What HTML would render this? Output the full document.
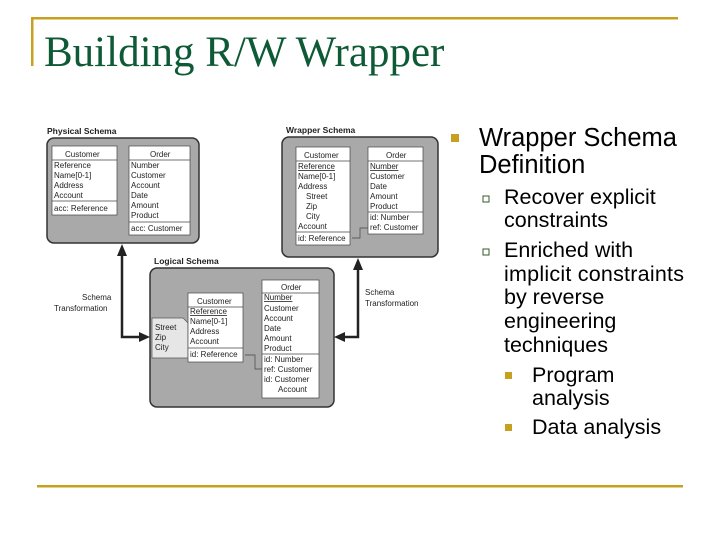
<!DOCTYPE html>
<html><head><meta charset="utf-8"><style>
html,body{margin:0;padding:0;background:#fff}
svg{display:block}
.d{font-family:"Liberation Sans",sans-serif;font-size:8px;fill:#222}
.h{font-family:"Liberation Sans",sans-serif;font-size:8.5px;font-weight:bold;fill:#222}
.t{font-family:"Liberation Sans",sans-serif;fill:#000}
</style></head><body>
<svg width="720" height="540" viewBox="0 0 720 540" xmlns="http://www.w3.org/2000/svg">
<rect x="32" y="17" width="646" height="2.5" fill="#c8a020"/>
<rect x="31" y="17" width="2.5" height="49" fill="#c8a020"/>
<rect x="37" y="485" width="646" height="2.5" fill="#c8a020"/>
<text x="44" y="66" font-family="Liberation Serif,serif" font-size="43" fill="#0f5a36">Building R/W Wrapper</text>

<!-- Physical -->
<text class="h" x="47" y="134">Physical Schema</text>
<rect x="47" y="138" width="152" height="105" rx="7" fill="#a9a9a9" stroke="#333" stroke-width="1.5"/>
<rect x="52" y="146" width="65" height="69" fill="#fff" stroke="#444" stroke-width=".7"/>
<line x1="52" y1="160" x2="117" y2="160" stroke="#444" stroke-width=".7"/>
<line x1="52" y1="201" x2="117" y2="201" stroke="#444" stroke-width=".7"/>
<text class="d" x="65" y="157">Customer</text>
<text class="d" x="54" y="168">Reference</text><text class="d" x="54" y="178">Name[0-1]</text><text class="d" x="54" y="188">Address</text><text class="d" x="54" y="198">Account</text><text class="d" x="54" y="211">acc: Reference</text>
<rect x="129" y="146" width="61" height="89" fill="#fff" stroke="#444" stroke-width=".7"/>
<line x1="129" y1="160" x2="190" y2="160" stroke="#444" stroke-width=".7"/>
<line x1="129" y1="222" x2="190" y2="222" stroke="#444" stroke-width=".7"/>
<text class="d" x="150" y="157">Order</text>
<text class="d" x="131" y="168">Number</text><text class="d" x="131" y="178">Customer</text><text class="d" x="131" y="188">Account</text><text class="d" x="131" y="198">Date</text><text class="d" x="131" y="208">Amount</text><text class="d" x="131" y="218">Product</text><text class="d" x="131" y="231">acc: Customer</text>

<!-- Wrapper -->
<text class="h" x="286" y="133">Wrapper Schema</text>
<rect x="282" y="137" width="156" height="120" rx="7" fill="#a9a9a9" stroke="#333" stroke-width="1.5"/>
<rect x="296" y="147" width="54" height="98" fill="#fff" stroke="#444" stroke-width=".7"/>
<line x1="296" y1="161" x2="350" y2="161" stroke="#444" stroke-width=".7"/>
<line x1="296" y1="232" x2="350" y2="232" stroke="#444" stroke-width=".7"/>
<text class="d" x="304" y="158">Customer</text>
<text class="d" x="298" y="169" text-decoration="underline">Reference</text><text class="d" x="298" y="179">Name[0-1]</text><text class="d" x="298" y="189">Address</text><text class="d" x="306" y="199">Street</text><text class="d" x="306" y="209">Zip</text><text class="d" x="306" y="219">City</text><text class="d" x="298" y="229">Account</text><text class="d" x="298" y="241">id: Reference</text>
<rect x="368" y="147" width="55" height="87" fill="#fff" stroke="#444" stroke-width=".7"/>
<line x1="368" y1="161" x2="423" y2="161" stroke="#444" stroke-width=".7"/>
<line x1="368" y1="212" x2="423" y2="212" stroke="#444" stroke-width=".7"/>
<text class="d" x="386" y="158">Order</text>
<text class="d" x="370" y="169" text-decoration="underline">Number</text><text class="d" x="370" y="179">Customer</text><text class="d" x="370" y="189">Date</text><text class="d" x="370" y="199">Amount</text><text class="d" x="370" y="209">Product</text><text class="d" x="370" y="220">id: Number</text><text class="d" x="370" y="230">ref: Customer</text>
<polyline points="368,228 360,228 360,238 352,238" fill="none" stroke="#444" stroke-width=".7"/>

<!-- Logical -->
<text class="h" x="154" y="264">Logical Schema</text>
<rect x="150" y="268" width="184" height="139" rx="7" fill="#a9a9a9" stroke="#333" stroke-width="1.5"/>
<polygon points="152,318 183,318 188,323 188,358 152,358" fill="#e6e6e6" stroke="#555" stroke-width=".7"/>
<text class="d" x="155" y="330">Street</text><text class="d" x="155" y="340">Zip</text><text class="d" x="155" y="350">City</text>
<rect x="188" y="293" width="55" height="69" fill="#fff" stroke="#444" stroke-width=".7"/>
<line x1="188" y1="307" x2="243" y2="307" stroke="#444" stroke-width=".7"/>
<line x1="188" y1="348" x2="243" y2="348" stroke="#444" stroke-width=".7"/>
<text class="d" x="197" y="304">Customer</text>
<text class="d" x="190" y="314" text-decoration="underline">Reference</text><text class="d" x="190" y="324">Name[0-1]</text><text class="d" x="190" y="334">Address</text><text class="d" x="190" y="344">Account</text><text class="d" x="190" y="357">id: Reference</text>
<rect x="262" y="280" width="57" height="118" fill="#fff" stroke="#444" stroke-width=".7"/>
<line x1="262" y1="293" x2="319" y2="293" stroke="#444" stroke-width=".7"/>
<line x1="262" y1="354" x2="319" y2="354" stroke="#444" stroke-width=".7"/>
<text class="d" x="281" y="290">Order</text>
<text class="d" x="264" y="300" text-decoration="underline">Number</text><text class="d" x="264" y="311">Customer</text><text class="d" x="264" y="321">Account</text><text class="d" x="264" y="331">Date</text><text class="d" x="264" y="341">Amount</text><text class="d" x="264" y="351">Product</text><text class="d" x="264" y="362">id: Number</text><text class="d" x="264" y="372">ref: Customer</text><text class="d" x="264" y="382">id: Customer</text><text class="d" x="278" y="392">Account</text>
<polyline points="262,369 255,369 255,355 245,355" fill="none" stroke="#444" stroke-width=".7"/>

<!-- Arrows -->
<polyline points="122,252 122,337 142,337" fill="none" stroke="#222" stroke-width="2.5"/>
<polygon points="122,244 117,256 127,256" fill="#222"/>
<polygon points="150,337 139,332 139,342" fill="#222"/>
<polyline points="358,266 358,337 343,337" fill="none" stroke="#222" stroke-width="2.5"/>
<polygon points="358,258 353,270 363,270" fill="#222"/>
<polygon points="334,337 345,332 345,342" fill="#222"/>
<text class="d" x="82" y="300">Schema</text><text class="d" x="54" y="311">Transformation</text>
<text class="d" x="365" y="295">Schema</text><text class="d" x="365" y="306">Transformation</text>

<!-- Right text -->
<rect x="451" y="134" width="8" height="8" fill="#c8a020"/>
<text class="t" x="479" y="146" font-size="25.5">Wrapper Schema</text>
<text class="t" x="479" y="173" font-size="25.5">Definition</text>
<rect x="483" y="196" width="6" height="6" fill="none" stroke="#3a5a2a" stroke-width="1"/>
<text class="t" x="504" y="204" font-size="21.5">Recover explicit</text>
<text class="t" x="504" y="227" font-size="21.5">constraints</text>
<rect x="483" y="249" width="6" height="6" fill="none" stroke="#3a5a2a" stroke-width="1"/>
<text class="t" x="504" y="257" font-size="21.5">Enriched with</text>
<text class="t" x="504" y="281" font-size="21.5" textLength="180">implicit constraints</text>
<text class="t" x="504" y="304" font-size="21.5">by reverse</text>
<text class="t" x="504" y="328" font-size="21.5">engineering</text>
<text class="t" x="504" y="352" font-size="21.5">techniques</text>
<rect x="505" y="372" width="7" height="7" fill="#c8a020"/>
<text class="t" x="532" y="382" font-size="21.5">Program</text>
<text class="t" x="532" y="405" font-size="21.5">analysis</text>
<rect x="505" y="424" width="7" height="7" fill="#c8a020"/>
<text class="t" x="532" y="434" font-size="21.5">Data analysis</text>
</svg>
</body></html>
